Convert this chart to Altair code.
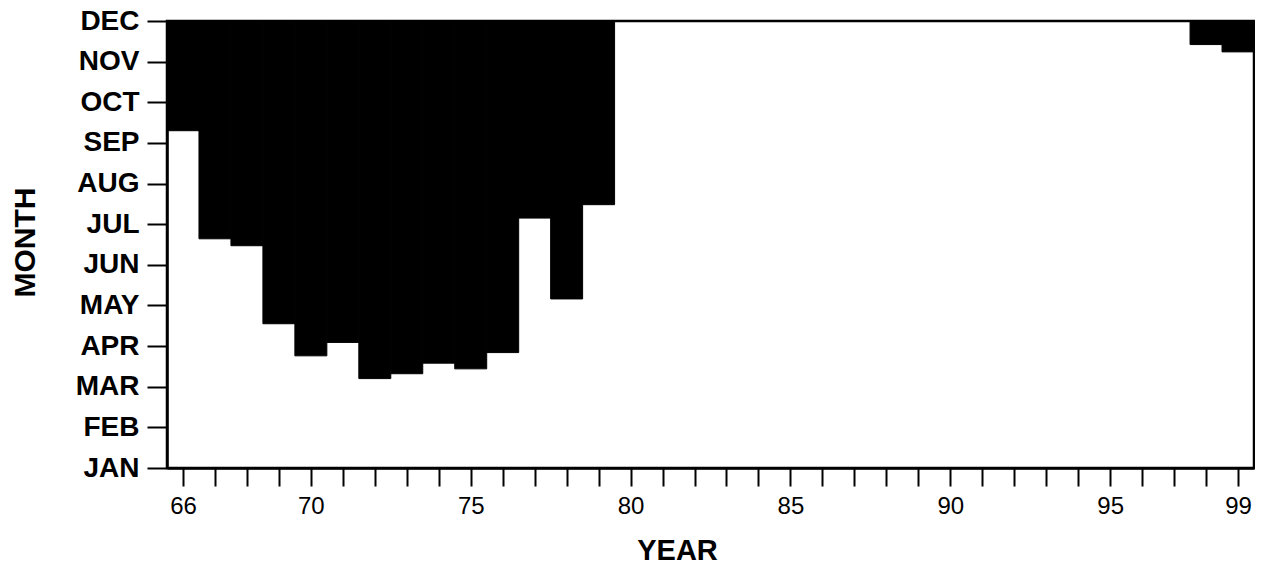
import json
import altair as alt
import pandas as pd

# ---- data ----
YEARS = [66, 67, 68, 69, 70, 71, 72, 73, 74, 75, 76, 77, 78, 79, 98, 99]
# month (1=JAN ... 12=DEC) down to which the black bar reaches (bar spans from DEC)
LOWEST_MONTH = [9.30, 6.64, 6.47, 4.55, 3.76, 4.09, 3.20, 3.32, 3.58, 3.44, 3.84,
                7.15, 5.16, 7.48, 11.42, 11.24]
MONTHS = ["JAN", "FEB", "MAR", "APR", "MAY", "JUN", "JUL", "AUG", "SEP", "OCT", "NOV", "DEC"]
YEAR_TICKS = list(range(66, 100))
YEAR_LABELS = [66, 70, 75, 80, 85, 90, 95, 99]

df = pd.DataFrame({"year": YEARS, "low": LOWEST_MONTH})
df["top"] = 12

FONT = "Liberation Sans"

x_scale = alt.Scale(domain=[65.5, 99.5], nice=False, zero=False)
y_scale = alt.Scale(domain=[1, 12], nice=False, zero=False)

chart = (
    alt.Chart(df)
    .transform_calculate(start="datum.year - 0.5", end="datum.year + 0.5")
    .mark_rect(color="black", stroke="black", strokeWidth=1)
    .encode(
        x=alt.X(
            "start:Q",
            scale=x_scale,
            axis=alt.Axis(
                values=YEAR_TICKS,
                labelExpr="indexof(" + json.dumps(YEAR_LABELS) + ", datum.value) >= 0 ? datum.value : ''",
                title="YEAR",
                titleFont=FONT,
                titleFontSize=29,
                titleFontWeight="bold",
                titleX=510,
                titleY=91,
                titleAlign="center",
                titleBaseline="alphabetic",
                labelFont=FONT,
                labelFontSize=24,
                labelFontWeight="normal",
                labelPadding=8,
                labelFlush=False,
                labelOverlap=False,
                tickSize=18,
                grid=False,
            ),
        ),
        x2="end:Q",
        y=alt.Y(
            "low:Q",
            scale=y_scale,
            axis=alt.Axis(
                values=list(range(1, 13)),
                labelExpr=json.dumps(MONTHS) + "[datum.value - 1]",
                title="MONTH",
                titleFont=FONT,
                titleFontSize=30,
                titleFontWeight="bold",
                titleAngle=270,
                titleX=-133,
                titleY=221,
                titleAlign="center",
                titleBaseline="alphabetic",
                labelFont=FONT,
                labelFontSize=28,
                labelFontWeight="bold",
                labelPadding=8,
                labelFlush=False,
                labelOverlap=False,
                tickSize=20,
                grid=False,
            ),
        ),
        y2="top:Q",
    )
    .properties(
        width=1087,
        height=447,
        background="white",
        autosize=alt.AutoSizeParams(type="none"),
        padding={"left": 159, "top": 13, "right": 1, "bottom": 98},
    )
    .configure_view(stroke="black", strokeWidth=2.5)
    .configure_axis(
        domainColor="black",
        domainWidth=2.5,
        tickColor="black",
        tickWidth=2,
        labelColor="black",
        titleColor="black",
    )
)

chart.save("out.html", embed_options={"renderer": "svg", "actions": False})
